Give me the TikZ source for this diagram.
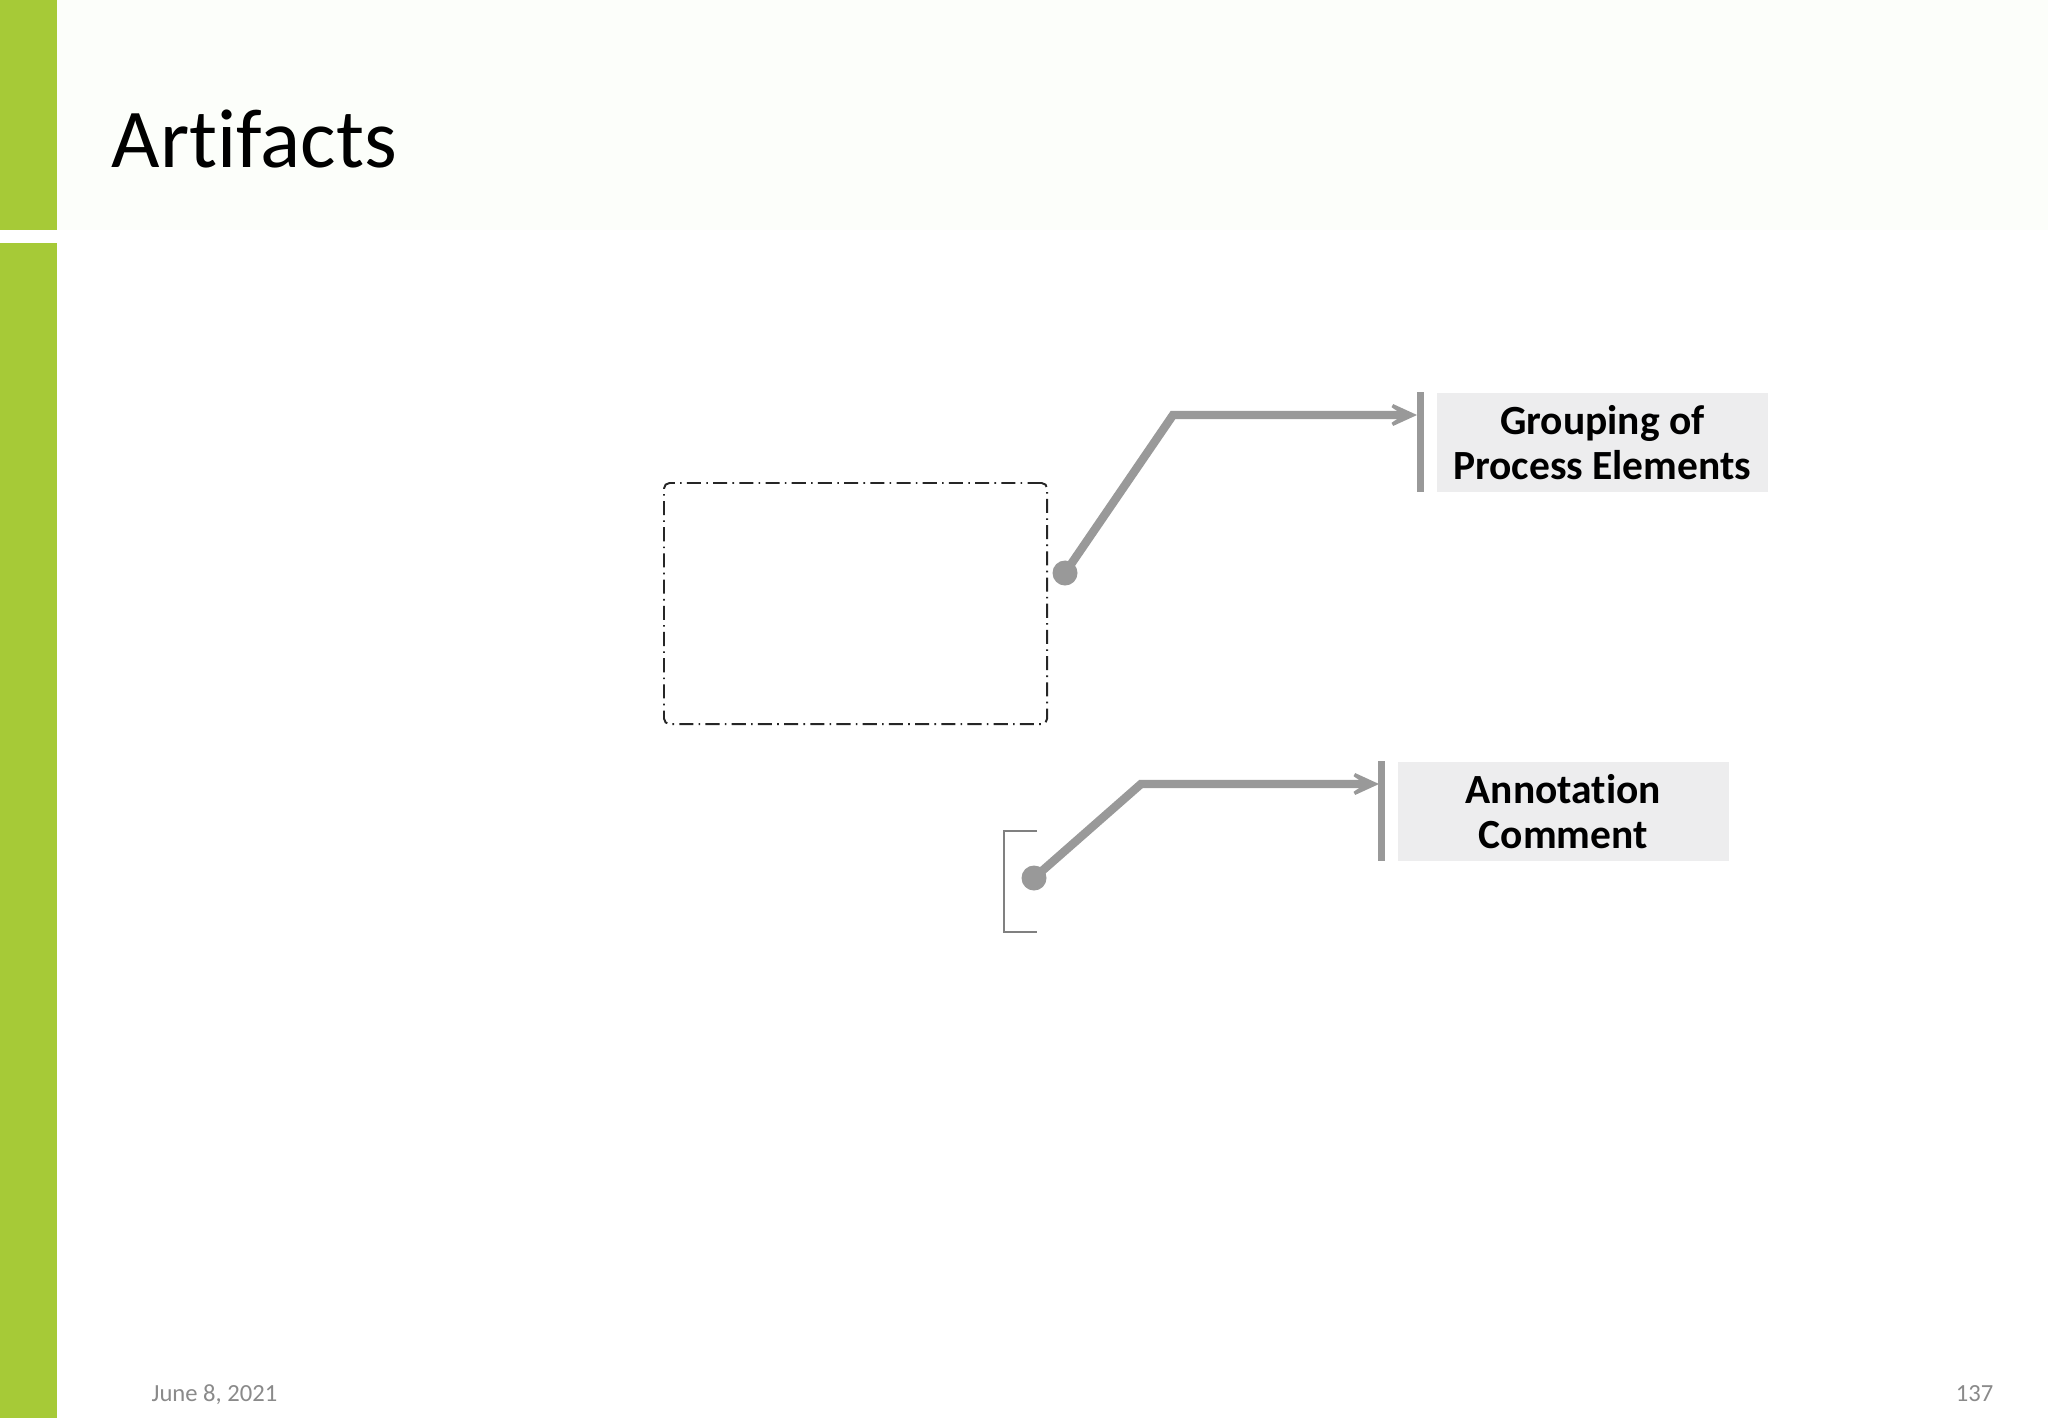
\documentclass[tikz,border=0pt]{standalone}
\usepackage{fontspec}
\setmainfont{Carlito}[Ligatures=NoCommon]
\usepackage{xcolor}
\usepackage{tikz}
\usetikzlibrary{arrows.meta,positioning}

\definecolor{barGreen}{HTML}{A6CA37}
\definecolor{headBg}{HTML}{FCFEFA}
\definecolor{lineGray}{HTML}{999999}
\definecolor{boxGray}{HTML}{EDEDEE}
\definecolor{footGray}{HTML}{8A8A8A}

\tikzset{
  flow/.style={draw=lineGray, line width=2.4pt, -{Stealth[length=12pt,width=11pt,inset=8pt]}},
  tagbar/.style={draw=lineGray, line width=2.2pt},
  pin/.style={circle, fill=lineGray, minimum size=0.25cm, inner sep=0pt},
  labelbox/.style={fill=boxGray, align=center, inner sep=0pt, minimum width=3.31cm, minimum height=0.99cm,
    font=\fontsize{11.8}{12.8}\selectfont\bfseries},
  groupframe/.style={draw=black!85, line width=0.55pt, rounded corners=1.6pt,
    dash pattern=on 4pt off 1.5pt on 0.45pt off 1.5pt}
}

\begin{document}
\begin{tikzpicture}[x=0.01cm, y=-0.01cm]
\useasboundingbox (0,0) rectangle (2048,1418);
% slide frame
\fill[white] (0,0) rectangle (2048,1418);
\fill[headBg] (57,0) rectangle (2048,230);
\fill[barGreen] (0,0) rectangle (57,230);
\fill[barGreen] (0,243) rectangle (57,1418);
\node[anchor=base west, inner sep=0pt, font=\fontsize{23.8}{28}\selectfont] (title) at (111,167) {Artifacts};

% group
\node[groupframe, anchor=north west, minimum width=3.83cm, minimum height=2.41cm] (grpframe) at (663,482) {};
\node[pin] (dot1) at (1065,573) {};
\coordinate (bend1) at (1173,415);
\coordinate (tip1) at (1417,415);
\node[labelbox, anchor=north west] (grp) at (1436,392) {Grouping of\\Process Elements};
\draw[tagbar] ([xshift=-0.155cm]grp.north west) -- ([xshift=-0.155cm]grp.south west);
\draw[flow] (dot1.center) -- (bend1) -- (tip1);

% annotation
\draw[draw=gray, line width=0.4pt] (1037,831) -- (1004,831) -- (1004,932) -- (1037,932);
\node[pin] (dot2) at (1034,878) {};
\coordinate (bend2) at (1141,784);
\coordinate (tip2) at (1379,784);
\node[labelbox, anchor=north west] (ann) at (1397,761) {Annotation\\Comment};
\draw[tagbar] ([xshift=-0.155cm]ann.north west) -- ([xshift=-0.155cm]ann.south west);
\draw[flow] (dot2.center) -- (bend2) -- (tip2);

% footer
\node[anchor=base west, inner sep=0pt, text=footGray, font=\fontsize{7}{8}\selectfont] (date) at (151,1401) {June 8, 2021};
\node[anchor=base east, inner sep=0pt, text=footGray, font=\fontsize{7}{8}\selectfont] (page) at (1994,1401) {137};
\end{tikzpicture}
\end{document}
